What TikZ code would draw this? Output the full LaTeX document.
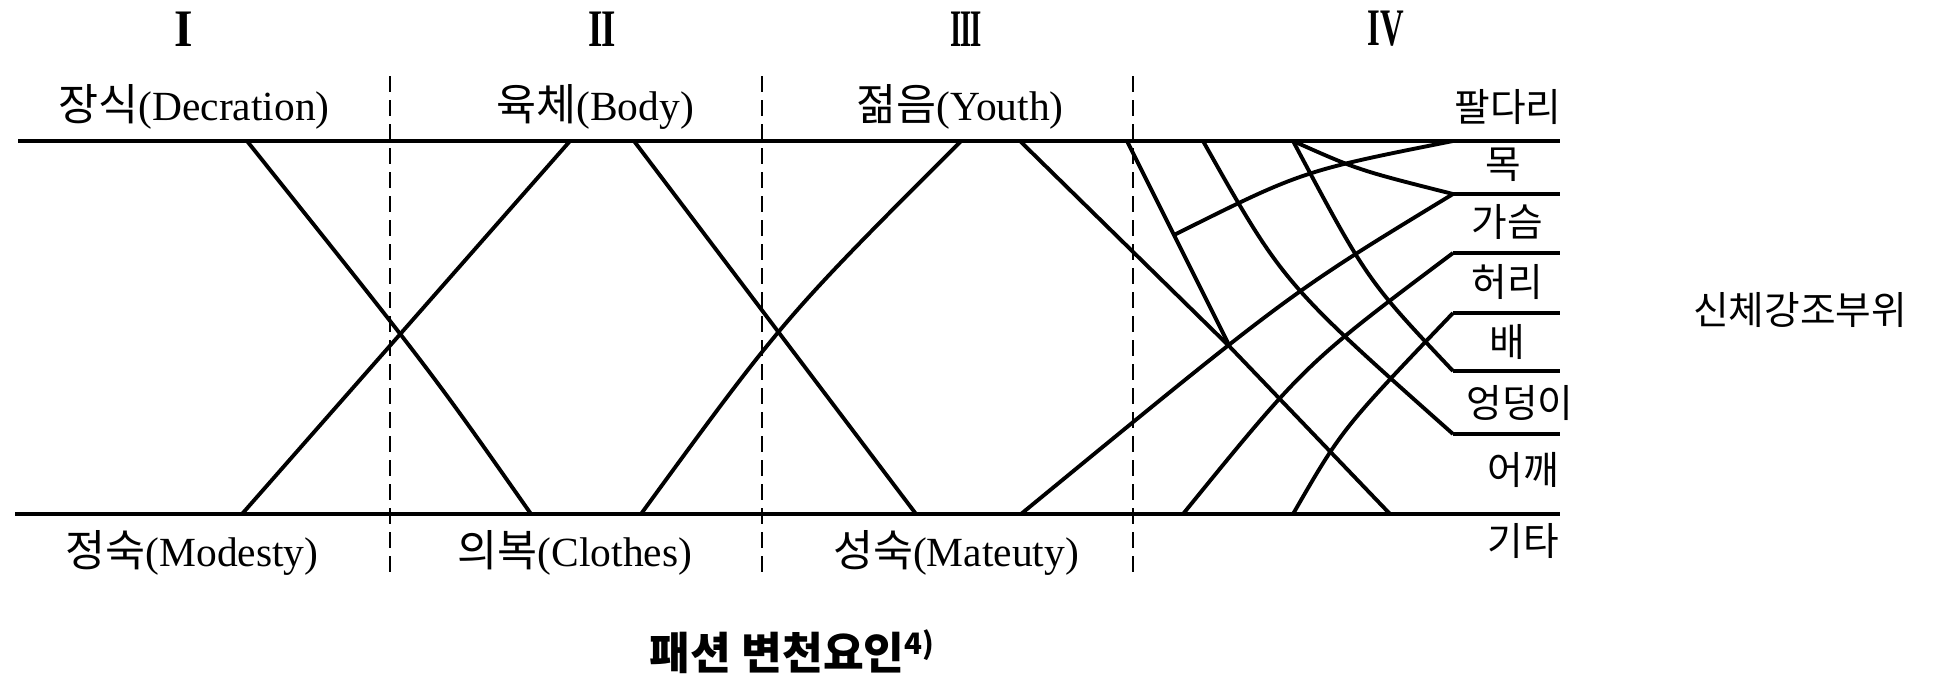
\documentclass[tikz,border=0pt]{standalone}
\usepackage{fontspec}
\setmainfont{Liberation Serif}
\newfontfamily\kr[Scale=1.05]{Noto Sans CJK KR}
\usepackage{graphicx}
\usepackage{tikz}
\usetikzlibrary{positioning}
\newcommand{\ko}[1]{{\kr #1}}
\newcommand{\stagenum}[2]{\scalebox{#1}[1]{#2}}

\begin{document}
\begin{tikzpicture}[
  x=0.1mm, y=-0.1mm,
  rail/.style={line width=1.2pt},
  trend/.style={line width=1.1pt},
  divider/.style={line width=0.8pt, dash pattern=on 1.6mm off 0.8mm},
  factor/.style={font=\fontsize{11.8}{14}\selectfont, inner sep=0pt},
  part/.style={font=\kr\fontsize{10.5}{12}\selectfont, inner sep=0pt},
  stage/.style={font=\bfseries\fontsize{15}{18}\selectfont, inner sep=0pt},
  caption/.style={font=\kr\bfseries\fontsize{12}{14}\selectfont, inner sep=0pt}
]
\useasboundingbox (0,0) rectangle (1936,680);

% ----- rails -----
\coordinate (tl) at (18,141);
\coordinate (tr) at (1560,141);
\coordinate (bl) at (15,514);
\coordinate (br) at (1560,514);
\coordinate (arm) at (1453,141);
\draw[rail] (tl) -- (tr);
\draw[rail] (bl) -- (br);
\foreach \y [count=\i] in {194,253,313,371,434}{
  \coordinate (s\i) at (1453,\y);
  \coordinate (e\i) at (1560,\y);
  \draw[rail] (s\i) -- (e\i);
}

% ----- period dividers -----
\foreach \x in {390,762,1133}
  \draw[divider] (\x,76) -- (\x,572);

% ----- end points on the rails -----
\coordinate (t1) at (247,141);  \coordinate (b1) at (242,514);
\coordinate (t2) at (570,141);  \coordinate (b2) at (531,514);
\coordinate (t3) at (634,141);  \coordinate (b3) at (641,514);
\coordinate (t4) at (961,141);  \coordinate (b4) at (916,514);
\coordinate (t5) at (1020,141); \coordinate (b5) at (1021,514);
\coordinate (t6) at (1127,141); \coordinate (b6) at (1183,514);
\coordinate (t7) at (1203,141); \coordinate (b7) at (1293,514);
\coordinate (t8) at (1293,141); \coordinate (b8) at (1390,514);
\coordinate (fork) at (1174,235);
\coordinate (meet) at (1230,347);

% ----- I / II -----
\draw[trend] (t1) .. controls (430,370) .. (b2);
\draw[trend] (b1) -- (t2);
% ----- II / III -----
\draw[trend] (t3) -- (b4);
\draw[trend] (b3) .. controls (784,318) .. (t4);
% ----- III / IV -----
\draw[trend] (t5) -- (meet) -- (b8);
\draw[trend] (t6) -- (fork) -- (meet);
\draw[trend] (fork) .. controls (1302,171) .. (arm);
\draw[trend] (t7) .. controls (1283,283) .. (s5);
\draw[trend] (t8) .. controls (1367,280) .. (s4);
\draw[trend] (t8) .. controls (1358,170) .. (s1);
\draw[trend] (b5) .. controls (1290,293) .. (s1);
\draw[trend] (b6) .. controls (1305,364) .. (s2);
\draw[trend] (b7) .. controls (1342,429) .. (s3);

% ----- stage numbers -----
\node[stage] (st1) at (184,29)  {\stagenum{0.9}{I}};
\node[stage] (st2) at (602,29)  {\stagenum{0.7}{I\kern-0.04em I}};
\node[stage] (st3) at (966,29)  {\stagenum{0.55}{I\kern-0.04em I\kern-0.04em I}};
\node[stage] (st4) at (1386,29) {\stagenum{0.62}{IV}};

% ----- factors -----
\node[factor] (deco)    at (194,107) {\ko{장식}(Decration)};
\node[factor] (body)    at (595,107) {\ko{육체}(Body)};
\node[factor] (youth)   at (960,107) {\ko{젊음}(Youth)};
\node[factor] (modesty) at (192,553) {\ko{정숙}(Modesty)};
\node[factor] (clothes) at (575,553) {\ko{의복}(Clothes)};
\node[factor] (mature)  at (956,553) {\ko{성숙}(Mateuty)};

% ----- body parts -----
\node[part] (limbs)    at (1508,107) {팔다리};
\node[part] (neck)     at (1503,165) {목};
\node[part] (chest)    at (1507,222) {가슴};
\node[part] (waist)    at (1507,282) {허리};
\node[part] (belly)    at (1507,342) {배};
\node[part] (hip)      at (1520,403) {엉덩이};
\node[part] (shoulder) at (1523,470) {어깨};
\node[part] (other)    at (1523,541) {기타};
\node[part] (emph)     at (1800,310) {신체강조부위};

\node[caption] (title) at (793,652) {패션 변천요인\textsuperscript{4)}};
\end{tikzpicture}
\end{document}
